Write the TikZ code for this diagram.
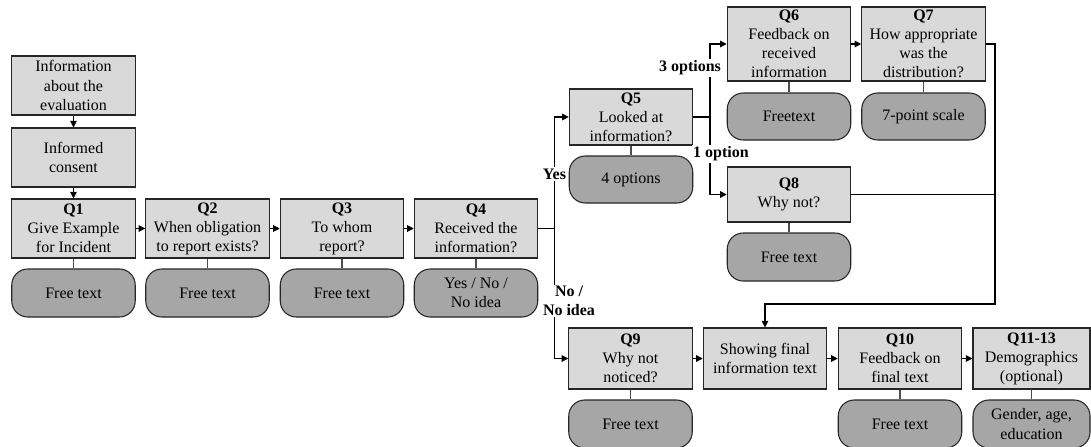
\documentclass[tikz,border=0pt]{standalone}
\usepackage{fontspec}
\setmainfont{Liberation Serif}
\usetikzlibrary{arrows.meta}
\definecolor{qfill}{HTML}{D9D9D9}
\definecolor{afill}{HTML}{A6A6A6}
\definecolor{edgec}{HTML}{262626}
\definecolor{linkc}{HTML}{4D4D4D}
\begin{document}
\begin{tikzpicture}[x=0.75pt,y=-0.75pt,
  font=\fontsize{12pt}{14.3pt}\selectfont,
  qbox/.style={draw=edgec, line width=0.8pt, fill=qfill, rectangle, minimum width=92.6pt, align=center, inner sep=0pt},
  abox/.style={draw=edgec, line width=0.8pt, fill=afill, rounded corners=12pt, minimum width=92.6pt, minimum height=36pt, align=center, inner sep=0pt},
  flow/.style={line width=0.8pt, -{Triangle[length=5pt,width=5pt]}},
  plainline/.style={line width=0.8pt},
  link/.style={line width=0.8pt, draw=linkc},
  lab/.style={fill=white, font=\fontsize{12pt}{14.3pt}\selectfont\bfseries, inner sep=1pt, align=center}]
\useasboundingbox (0,0) rectangle (1091,446);

% question boxes
\node[qbox, minimum height=44.25pt] (info) at (73.5,85.5) {Information\\about the\\evaluation};
\node[qbox, minimum height=44.25pt] (consent) at (73.5,157.5) {Informed\\consent};
\node[qbox, minimum height=44.25pt] (q1) at (73.5,228.5) {\textbf{Q1}\\Give Example\\for Incident};
\node[qbox, minimum height=44.25pt] (q2) at (207.5,228.5) {\textbf{Q2}\\When obligation\\to report exists?};
\node[qbox, minimum height=44.25pt] (q3) at (342,228.5) {\textbf{Q3}\\To whom\\report?};
\node[qbox, minimum height=44.25pt] (q4) at (476,228.5) {\textbf{Q4}\\Received the\\information?};
\node[qbox, minimum height=42pt] (q5) at (631,117) {\textbf{Q5}\\Looked at\\information?};
\node[qbox, minimum height=55.5pt] (q6) at (789,44) {\textbf{Q6}\\Feedback on\\received\\information};
\node[qbox, minimum height=55.5pt] (q7) at (923.5,44) {\textbf{Q7}\\How appropriate\\was the\\distribution?};
\node[qbox, minimum height=41.25pt] (q8) at (789,194.5) {\textbf{Q8}\\Why not?};
\node[qbox, minimum height=45.75pt] (q9) at (630.5,358.5) {\textbf{Q9}\\Why not\\noticed?};
\node[qbox, minimum height=45.75pt] (show) at (765,358.5) {Showing final\\information text};
\node[qbox, minimum height=45.75pt] (q10) at (900,358.5) {\textbf{Q10}\\Feedback on\\final text};
\node[qbox, minimum height=45.75pt, minimum width=87.75pt] (q11) at (1031.5,358.5) {\textbf{Q11-13}\\Demographics\\(optional)};

% answer boxes
\node[abox] (a1) at (73.5,293) {Free text};
\node[abox] (a2) at (207.5,293) {Free text};
\node[abox] (a3) at (342,293) {Free text};
\node[abox] (a4) at (476,293) {Yes / No /\\No idea};
\node[abox, minimum height=35.25pt] (a5) at (631,179.5) {4 options};
\node[abox, minimum height=35.25pt] (a6) at (789,116.5) {Freetext};
\node[abox, minimum height=35.25pt] (a7) at (923.5,116.5) {7-point scale};
\node[abox] (a8) at (789,257) {Free text};
\node[abox] (a9) at (630.5,424) {Free text};
\node[abox] (a10) at (900,424) {Free text};
\node[abox, minimum width=87.75pt] (a11) at (1031.5,424) {Gender, age,\\education};

% links question -> answer
\foreach \q/\a in {q1/a1,q2/a2,q3/a3,q4/a4,q5/a5,q6/a6,q7/a7,q8/a8,q9/a9,q10/a10,q11/a11}
  \draw[link] (\q.south) -- (\a.north);

% main flow
\draw[flow] (info) -- (consent);
\draw[flow] (consent) -- (q1);
\draw[flow] (q1) -- (q2);
\draw[flow] (q2) -- (q3);
\draw[flow] (q3) -- (q4);

\coordinate (br1) at (554.5,228.5);
\draw[plainline] (q4.east) -- (br1);
\draw[flow] (br1) |- (q5.west);
\draw[flow] (br1) |- (q9.west);

\coordinate (br2) at (710,117);
\draw[plainline] (q5.east) -- (br2);
\draw[flow] (br2) |- (q6.west);
\draw[flow] (br2) |- (q8.west);

\draw[flow] (q6) -- (q7);

\coordinate (rc) at (995,194.5);
\coordinate (rb) at (995,304);
\coordinate (sb) at (765,304);
\draw[plainline] (q7.east) -| (rc);
\draw[plainline] (q8.east) -- (rc);
\draw[flow] (rc) -- (rb) -- (sb) -- (show.north);

\draw[flow] (q9) -- (show);
\draw[flow] (show) -- (q10);
\draw[flow] (q10) -- (q11);

% labels
\node[lab] (lyes) at (554.5,174) {Yes};
\node[lab] (lno) at (569,301) {No /\\No idea};
\node[lab] (l3) at (690,68) {3 options};
\node[lab] (l1) at (721,154) {1 option};
\end{tikzpicture}
\end{document}
